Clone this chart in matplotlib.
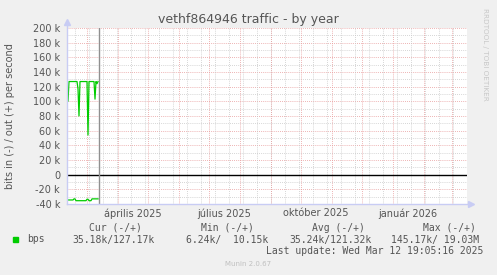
import matplotlib
matplotlib.use("Agg")
import matplotlib.pyplot as plt
import matplotlib.dates as mdates
import numpy as np
import pandas as pd
from datetime import datetime, timedelta

# munin "by year" graph: 400 days, one sample per day
start = datetime(2025, 2, 8, 19, 5, 16)
end = start + timedelta(days=400)
now = datetime(2025, 3, 12, 19, 5, 16)

# traffic in kbit/s, out (+) and in (-)
out_k = [127, 100, 127, 127, 127, 127, 127, 127, 127, 127, 127, 117, 80, 127, 127, 127,
         127, 127, 127, 127, 127, 54, 127, 127, 127, 127, 127, 127, 103, 127, 124, 127]
in_k = [-34.5, -34.5, -34.5, -34.5, -34.5, -34.5, -34.5, -33, -33, -35.5, -35.5, -35.5,
        -35.5, -35.5, -35.5, -35.5, -35.5, -35.5, -35.5, -35.5, -33.5, -33.5, -35.5, -35.5,
        -35.5, -33, -33, -33, -33, -33, -33, -33]
days = pd.date_range(start, periods=len(out_k), freq="D")

yticks = list(range(-40, 201, 20))
ylabels = [f"{v} k" if v != 0 else "0" for v in yticks]
month_labels = ["április 2025", "július 2025", "október 2025", "január 2026"]
month_label_dates = [datetime(2025, 4, 16), datetime(2025, 7, 16),
                     datetime(2025, 10, 16), datetime(2026, 1, 16)]

legend_head = ["Cur (-/+)", "Min (-/+)", "Avg (-/+)", "Max (-/+)"]
legend_vals = ["35.18k/127.17k", "6.24k/  10.15k", "35.24k/121.32k", "145.17k/ 19.03M"]

green = "#00cc00"
txt = "#555555"
W, H = 497, 275

fig = plt.figure(figsize=(W / 100, H / 100), dpi=100, facecolor="#f0f0f0")
ax = fig.add_axes([67 / W, (H - 204) / H, 400 / W, 176 / H])
ax.set_facecolor("white")
ax.set_xlim(start, end)
ax.set_ylim(-40, 200)
for s in ax.spines.values():
    s.set_visible(False)

# grid: minor (gray) and major (red)
dot = (0, (1, 1.5))
for v in range(-30, 200, 20):
    ax.axhline(v, color="#c8c8c8", lw=0.6, ls=dot, zorder=1)
for v in range(-20, 201, 20):
    ax.axhline(v, color="#e89a9a", lw=0.6, ls=dot, zorder=1)
d = datetime(2025, 2, 17)
while d < end:
    ax.axvline(d, color="#c8c8c8", lw=0.6, ls=dot, zorder=1)
    d += timedelta(days=14)
m = datetime(2025, 3, 1)
while m < end:
    ax.axvline(m, color="#e89a9a", lw=0.6, ls=dot, zorder=1)
    m = datetime(m.year + (m.month == 12), m.month % 12 + 1, 1)

ax.axhline(0, color="black", lw=1.0, zorder=3)
ax.axvline(now, color="#909090", lw=1.0, zorder=3)

ax.plot(days, out_k, color=green, lw=0.9, zorder=4)
ax.plot(days, in_k, color=green, lw=0.9, zorder=4)

ax.set_yticks(yticks)
ax.set_yticklabels(ylabels)
ax.set_xticks([mdates.date2num(x) for x in month_label_dates])
ax.set_xticklabels(month_labels)
ax.tick_params(length=0, labelsize=7, colors=txt)
ax.tick_params(axis="y", pad=5)
ax.tick_params(axis="x", pad=3)

# axes with arrows
axis_col = "#c8ccf4"
fig.add_artist(plt.Line2D([67 / W, 67 / W], [(H - 204) / H, (H - 24) / H], color=axis_col, lw=1))
fig.add_artist(plt.Line2D([67 / W, 469 / W], [(H - 204) / H, (H - 204) / H], color=axis_col, lw=1))
fig.add_artist(plt.Line2D([67 / W], [(H - 22) / H], marker="^", ms=4, color=axis_col, lw=0))
fig.add_artist(plt.Line2D([471 / W], [(H - 204) / H], marker=">", ms=4, color=axis_col, lw=0))

fig.text(248 / W, 1 - 19 / H, "vethf864946 traffic - by year", ha="center", va="center",
         fontsize=9, color=txt)
fig.text(10 / W, 1 - 116 / H, "bits in (-) / out (+) per second", rotation=90,
         ha="center", va="center", fontsize=7, color=txt)
fig.text(485 / W, 1 - 54 / H, "RRDTOOL / TOBI OETIKER", rotation=270,
         ha="center", va="center", fontsize=5.2, color="#c8c8c8")

mono = "DejaVu Sans Mono"
for x, s in zip([89, 201, 311.7, 422.7], legend_head):
    fig.text(x / W, 1 - 228 / H, s, family=mono, fontsize=7, color=txt, va="center")
fig.add_artist(plt.Rectangle((13 / W, 1 - 242 / H), 5 / W, 5 / H, color=green))
fig.text(26.7 / W, 1 - 239.5 / H, "bps", family=mono, fontsize=7, color=txt, va="center")
for x, s in zip([72.3, 185.7, 289, 390.7], legend_vals):
    fig.text(x / W, 1 - 239.5 / H, s, family=mono, fontsize=7, color=txt, va="center")
fig.text(483 / W, 1 - 251.5 / H, "Last update: Wed Mar 12 19:05:16 2025", family=mono,
         fontsize=7, color=txt, va="center", ha="right")
fig.text(248 / W, 1 - 264.5 / H, "Munin 2.0.67", fontsize=5, color="#c0c0c0",
         ha="center", va="center")

fig.savefig("out.png", dpi=100, facecolor=fig.get_facecolor())
